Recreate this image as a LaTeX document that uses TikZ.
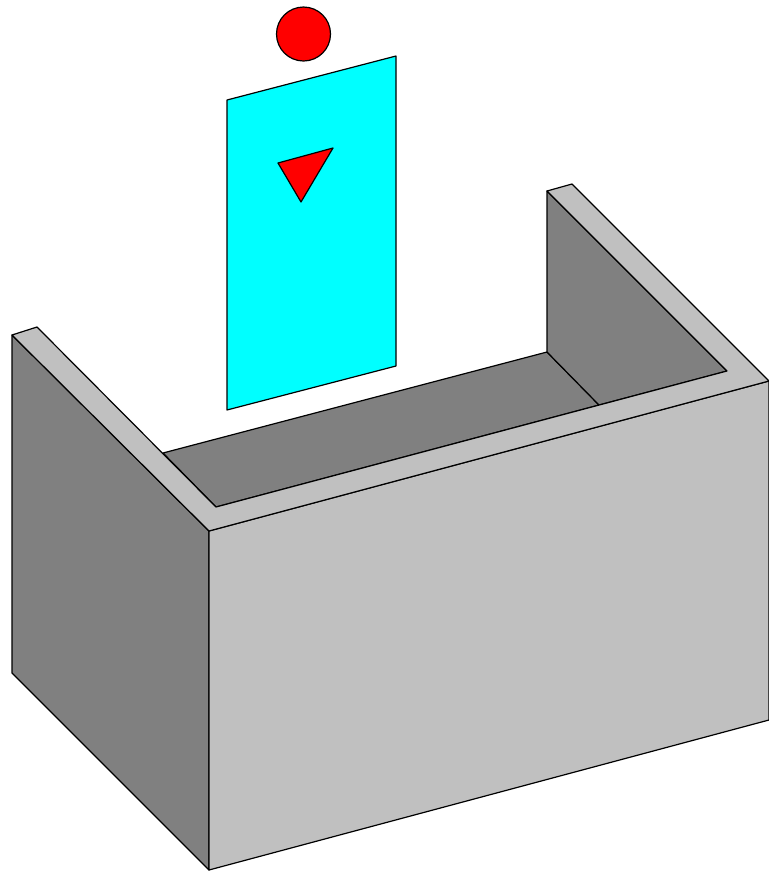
\documentclass[tikz,border=0pt]{standalone}
\usepackage{xcolor}
\usepackage{tikz}
\definecolor{rim}{HTML}{c0c0c0}
\definecolor{shade}{HTML}{808080}
\definecolor{panel}{HTML}{00ffff}
\definecolor{mark}{HTML}{ff0000}

\begin{document}
\begin{tikzpicture}[
  x=1pt, y=-1pt,
  face/.style={draw=black, line width=1.2pt, line join=round},
  lit/.style={face, fill=rim},
  dark/.style={face, fill=shade},
  sheet/.style={face, fill=panel},
  spot/.style={face, fill=mark}
]
\useasboundingbox (0,0) rectangle (769,871);

% outer corners
\coordinate (lefttop)   at (12,335);
\coordinate (leftback)  at (37,327);
\coordinate (leftbase)  at (12,673);
\coordinate (fronttop)  at (209,531);
\coordinate (frontbase) at (209,870);
\coordinate (righttop)  at (769,381);
\coordinate (rightbase) at (769,720);
% inner corners
\coordinate (wallback)  at (547,191);
\coordinate (wallrear)  at (572,184);
\coordinate (wallcorner) at (727,371);
\coordinate (floorleft) at (163,453);
\coordinate (floorfront) at (216,507);
\coordinate (floorback) at (547,352);
\coordinate (floorright) at (599,405);

% inside of the box
\draw[dark] (floorleft) -- (floorback) -- (floorright) -- (floorfront) -- cycle;
\draw[dark] (floorback) -- (wallback) -- (wallcorner) -- (floorright) -- cycle;

% outside faces
\draw[dark] (lefttop) -- (fronttop) -- (frontbase) -- (leftbase) -- cycle;
\draw[lit] (fronttop) -- (righttop) -- (rightbase) -- (frontbase) -- cycle;
\draw[lit] (lefttop) -- (leftback) -- (floorfront) -- (wallcorner) -- (wallback)
  -- (wallrear) -- (righttop) -- (fronttop) -- cycle;

% panel with its marks
\draw[sheet] (227,100) -- (396,56) -- (396,366) -- (227,410) -- cycle;
\draw[spot] (278,163) -- (333,148) -- (301,202) -- cycle;
\draw[spot] (303.5,34) circle (27);
\end{tikzpicture}
\end{document}
